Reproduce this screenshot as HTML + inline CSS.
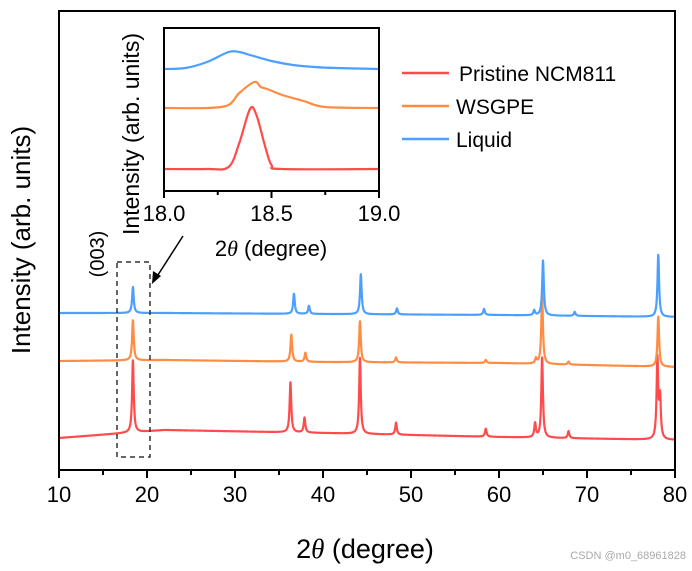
<!DOCTYPE html>
<html><head><meta charset="utf-8"><style>
body{margin:0;background:#fff;}
svg{display:block;font-family:"Liberation Sans",Arial,sans-serif;}
</style></head><body>
<svg id="chart" width="692" height="571" viewBox="0 0 692 571" xmlns="http://www.w3.org/2000/svg">
<rect width="692" height="571" fill="#fff"/>
<g id="main"></g>
<g id="inset"></g>
<g>
<line x1="402" y1="73" x2="449" y2="73" stroke="#ff4b4b" stroke-width="2.5"/>
<text x="459" y="81" font-size="21">Pristine NCM811</text>
<line x1="402" y1="106" x2="449" y2="106" stroke="#ff8c42" stroke-width="2.5"/>
<text x="456" y="114" font-size="21">WSGPE</text>
<line x1="402" y1="139" x2="449" y2="139" stroke="#4ba0ff" stroke-width="2.5"/>
<text x="456" y="147" font-size="21">Liquid</text>
</g>
<text transform="translate(30,240) rotate(-90)" text-anchor="middle" font-size="26">Intensity (arb. units)</text>
<text x="365" y="558" text-anchor="middle" font-size="27">2<tspan font-style="italic" font-family="Liberation Serif, serif">θ</tspan> (degree)</text>
<text transform="translate(104,254) rotate(-90)" text-anchor="middle" font-size="20">(003)</text>
<rect x="117" y="262" width="33" height="195" fill="none" stroke="#333" stroke-width="1.5" stroke-dasharray="5,4"/>
<line x1="183" y1="236" x2="156" y2="278" stroke="#000" stroke-width="1.5"/>
<polygon points="152,284 153,271 161,276" fill="#000"/>
<text x="686" y="559" text-anchor="end" font-size="11" fill="#aaa">CSDN @m0_68961828</text>
</svg>
<script>
// ---- main chart data ----
const xTicks = [10,20,30,40,50,60,70,80];
const seriesNames = ['pristine','wsgpe','liquid'];
const seriesColors = ['#ff4b4b','#ff8c42','#4ba0ff'];
const baseX = [10,22,40,60,80];
const redBase = [32,40,37,33,30];
const orangeBase = [109,110,108,107,103];
const blueBase = [157,157,156,155,153];
const redPeakPos = [18.4,36.3,37.9,44.2,48.3,58.5,64.1,64.9,67.9,78.0,78.3];
const redPeakH = [72,50,15,76,12,8,14,80,7,80,40];
const orangePeakPos = [18.4,36.4,38.0,44.2,48.3,58.5,64.2,64.9,67.9,78.1];
const orangePeakH = [40,27,9,41,5,3,5,70,3,50];
const bluePeakPos = [18.4,36.7,38.4,44.3,48.4,58.3,64.0,65.0,68.6,78.1];
const bluePeakH = [26,20,8,40,6,6,5,55,4,62];
// ---- inset data ----
const insetTicks = [18.0,18.5,19.0];
const blueInX = [18.0,18.1,18.2,18.3,18.35,18.4,18.5,18.6,18.7,18.8,19.0];
const blueInY = [122,123,129,139,139,136,130,126,124,123,122];
const orangeInX = [18.0,18.2,18.3,18.35,18.42,18.45,18.48,18.55,18.65,18.75,19.0];
const orangeInY = [83,83,86,98,109,104,102,96,90,84,83];
const redInX = [18.0,18.2,18.3,18.35,18.4,18.43,18.47,18.5,18.55,19.0];
const redInY = [22,22,24,48,82,76,45,26,22,22];

const NS='http://www.w3.org/2000/svg';
function el(tag,attrs,parent){const e=document.createElementNS(NS,tag);for(const k in attrs)e.setAttribute(k,attrs[k]);parent.appendChild(e);return e;}
const X0=59,X1=675,Y0=470,Y1=11;
function xs(v){return X0+(v-10)/(80-10)*(X1-X0);}
function ys(v){return Y0-v;}
function interp(xa,ya,x){if(x<=xa[0])return ya[0];for(let i=1;i<xa.length;i++){if(x<=xa[i]){const t=(x-xa[i-1])/(xa[i]-xa[i-1]);return ya[i-1]+t*(ya[i]-ya[i-1]);}}return ya[ya.length-1];}
const main=document.getElementById('main');
const bases=[redBase,orangeBase,blueBase];
const pps=[redPeakPos,orangePeakPos,bluePeakPos];
const phs=[redPeakH,orangePeakH,bluePeakH];
for(let s=0;s<3;s++){
  let d='';
  for(let x=10;x<=80.0001;x+=0.02){
    let v=interp(baseX,bases[s],x);
    for(let p=0;p<pps[s].length;p++){const w=0.11;const dx=(x-pps[s][p])/w;v+=phs[s][p]/(1+dx*dx);}
    d+=(d?'L':'M')+xs(x).toFixed(2)+','+ys(v).toFixed(2);
  }
  const path=el('path',{d:d,fill:'none',stroke:seriesColors[s],'stroke-width':2.2,'stroke-linejoin':'round'},main);
  
  
}
const frame=el('rect',{x:X0,y:Y1,width:X1-X0,height:Y0-Y1,fill:'none',stroke:'#000','stroke-width':2},main);


for(let v=10;v<=80;v+=5){
  const major=(v%10===0);
  const t=el('line',{x1:xs(v),x2:xs(v),y1:Y0,y2:Y0+(major?8:5),stroke:'#000','stroke-width':2},main);
  
  
}
xTicks.forEach(v=>{
  const t=el('text',{x:xs(v),y:502,'text-anchor':'middle','font-size':22},main);
  t.textContent=v;
  
  
});
// inset
const inset=document.getElementById('inset');
const IX0=164,IX1=379,IY0=191,IY1=28;
function ixs(v){return IX0+(v-18)/(19-18)*(IX1-IX0);}
function iys(v){return IY0-v;}
function smoothPath(px,py){
  let d='M'+px[0].toFixed(1)+','+py[0].toFixed(1);
  for(let i=0;i<px.length-1;i++){
    const p0x=px[Math.max(i-1,0)],p0y=py[Math.max(i-1,0)];
    const p3x=px[Math.min(i+2,px.length-1)],p3y=py[Math.min(i+2,px.length-1)];
    const c1x=px[i]+(px[i+1]-p0x)/6,c1y=py[i]+(py[i+1]-p0y)/6;
    const c2x=px[i+1]-(p3x-px[i])/6,c2y=py[i+1]-(p3y-py[i])/6;
    d+='C'+c1x.toFixed(1)+','+c1y.toFixed(1)+' '+c2x.toFixed(1)+','+c2y.toFixed(1)+' '+px[i+1].toFixed(1)+','+py[i+1].toFixed(1);
  }
  return d;
}
const ins=[[redInX,redInY],[orangeInX,orangeInY],[blueInX,blueInY]];
for(let s=0;s<3;s++){
  const px=ins[s][0].map(ixs), py=ins[s][1].map(iys);
  const pl=el('path',{d:smoothPath(px,py),fill:'none',stroke:seriesColors[s],'stroke-width':2.2,'stroke-linejoin':'round'},inset);
  
  
}
const iframe=el('rect',{x:IX0,y:IY1,width:IX1-IX0,height:IY0-IY1,fill:'none',stroke:'#000','stroke-width':2},inset);


for(let v=18;v<=19.001;v+=0.25){
  const major=Math.abs(v*2-Math.round(v*2))<1e-6;
  const t=el('line',{x1:ixs(v),x2:ixs(v),y1:IY0,y2:IY0+(major?7:4),stroke:'#000','stroke-width':2},inset);
  
  
}
insetTicks.forEach(v=>{
  const t=el('text',{x:ixs(v),y:221,'text-anchor':'middle','font-size':22},inset);
  t.textContent=v.toFixed(1);
  
  
});
const ixl=el('text',{x:271,y:256,'text-anchor':'middle','font-size':22},inset);
ixl.innerHTML='2<tspan font-style="italic" font-family="Liberation Serif, serif">θ</tspan> (degree)';


const iyl=el('text',{transform:'translate(139,134) rotate(-90)','text-anchor':'middle','font-size':23},inset);
iyl.textContent='Intensity (arb. units)';


</script>
</body></html>
